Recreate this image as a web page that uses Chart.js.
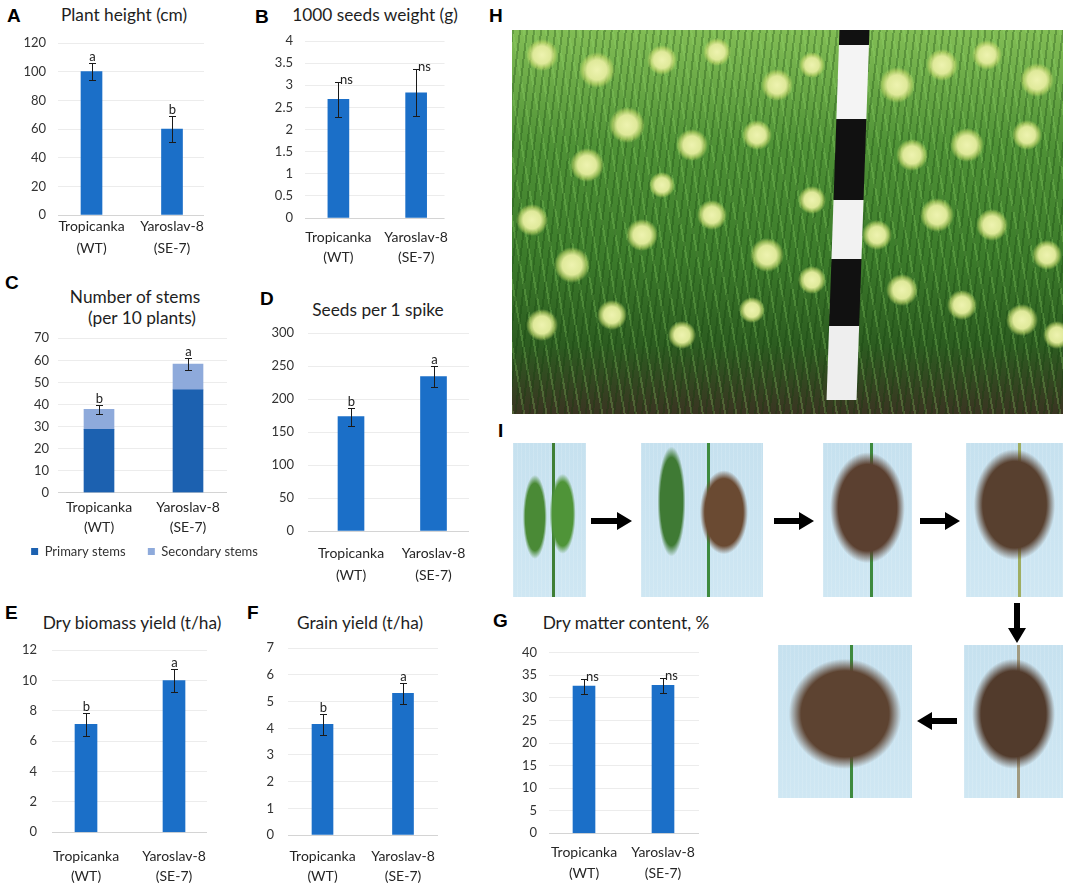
<!DOCTYPE html>
<html><head><meta charset="utf-8">
<script src="https://cdn.jsdelivr.net/npm/chart.js@4.4.1/dist/chart.umd.min.js"></script>
<style>
html,body{margin:0;padding:0;background:#fff;}
body{width:1065px;height:887px;position:relative;overflow:hidden;font-family:Lato,'Noto Sans',sans-serif;}
.lbl{position:absolute;font-family:'Liberation Sans',Arial,sans-serif;font-weight:bold;font-size:19px;line-height:19px;color:#000;}
.ttl{position:absolute;width:300px;text-align:center;font-size:17.3px;line-height:20px;color:#1e1e1e;white-space:nowrap;font-family:Lato,sans-serif;}
.photo{position:absolute;overflow:hidden;}
.spike{background-color:#c8e2f0;}
svg{position:absolute;left:0;top:0;}
</style>
</head><body>
<script>
// ---------- data ----------
const categories = ['Tropicanka (WT)', 'Yaroslav-8 (SE-7)'];
const categoryLines = [['Tropicanka', '(WT)'], ['Yaroslav-8', '(SE-7)']];

const plantHeight = [100, 60];
const plantHeightErr = [5.8, 8.8];
const plantHeightSig = ['a', 'b'];

const seedWeight = [2.68, 2.83];
const seedWeightErr = [0.39, 0.53];
const seedWeightSig = ['ns', 'ns'];

const primaryStems = [28.7, 46.6];
const secondaryStems = [9.1, 11.7];
const stemsErr = [1.9, 2.8];
const stemsSig = ['b', 'a'];

const seedsPerSpike = [173.5, 234.5];
const seedsPerSpikeErr = [13.5, 16.2];
const seedsPerSpikeSig = ['b', 'a'];

const biomassYield = [7.1, 9.98];
const biomassErr = [0.73, 0.75];
const biomassSig = ['b', 'a'];

const grainYield = [4.15, 5.31];
const grainErr = [0.4, 0.39];
const grainSig = ['b', 'a'];

const dryMatter = [32.6, 32.8];
const dryMatterErr = [1.65, 1.7];
const dryMatterSig = ['ns', 'ns'];

// y axis tick settings [max, step]
const plantHeightTicks = [120, 20];
const seedWeightTicks = [4, 0.5];
const stemsTicks = [70, 10];
const seedsTicks = [300, 50];
const biomassTicks = [12, 2];
const grainTicks = [7, 1];
const dryMatterTicks = [40, 5];

const BLUE = '#1b6fc8';
const PRIMARY = '#1c61b0';
const SECONDARY = '#8eaadb';

// ---------- helpers ----------
function addDiv(cls, x, y, text, extra) {
  const d = document.createElement('div');
  d.className = cls;
  d.style.left = x + 'px'; d.style.top = y + 'px';
  if (extra) d.style.cssText += extra;
  d.textContent = text;
  document.body.appendChild(d);
  return d;
}
function letter(t, gx, gy) { addDiv('lbl', gx, gy - 2.5, t); }
function title(t, cx, cy) { addDiv('ttl', cx - 150, cy - 10, t); }

function makeChart(p) {
  const cv = document.createElement('canvas');
  cv.width = p.box.w; cv.height = p.box.h;
  cv.style.cssText = `position:absolute;left:${p.box.x}px;top:${p.box.y}px;width:${p.box.w}px;height:${p.box.h}px;`;
  document.body.appendChild(cv);
  const unit = p.centers[1] - p.centers[0];
  const xmin = -(p.centers[0] - p.area.l) / unit;
  const xmax = 1 + (p.area.r - p.centers[1]) / unit;
  const totals = categories.map((c, i) => p.datasets.reduce((s, d) => s + d.values[i], 0));
  const errPlugin = {
    id: 'errbars',
    afterDatasetsDraw(chart) {
      const xs = chart.scales.x, ys = chart.scales.y, ctx = chart.ctx;
      ctx.save();
      totals.forEach((v, i) => {
        const e = p.errors[i];
        const x = Math.round(xs.getPixelForValue(i)) + 0.5;
        const yt = Math.round(ys.getPixelForValue(v + e)) + 0.5;
        const yb = Math.round(ys.getPixelForValue(v - e)) + 0.5;
        ctx.strokeStyle = '#1a1a1a'; ctx.lineWidth = 1;
        ctx.beginPath();
        ctx.moveTo(x, yt); ctx.lineTo(x, yb);
        ctx.moveTo(x - 3.5, yt); ctx.lineTo(x + 3.5, yt);
        ctx.moveTo(x - 3.5, yb); ctx.lineTo(x + 3.5, yb);
        ctx.stroke();
        const s = p.sig[i];
        ctx.fillStyle = '#222';
        ctx.font = '13px Lato';
        ctx.textBaseline = 'alphabetic';
        if (s === 'ns') { ctx.textAlign = 'left'; ctx.fillText(s, x + 1.5, yt + 1); }
        else { ctx.textAlign = 'center'; ctx.fillText(s, x, yt - 3); }
      });
      ctx.restore();
    }
  };
  const hasLegend = p.datasets.length > 1;
  const rightGap = p.box.x + p.box.w - p.area.r;
  new Chart(cv, {
    type: 'bar',
    data: {
      datasets: p.datasets.map(d => ({
        label: d.label,
        data: d.values.map((v, i) => ({ x: i, y: v })),
        backgroundColor: d.color,
        borderColor: d.color,
        borderWidth: 0,
        barThickness: p.barW
      }))
    },
    options: {
      responsive: false,
      animation: false,
      layout: { padding: { top: p.area.t - p.box.y, right: 0, left: 0, bottom: 0 } },
      plugins: {
        legend: {
          display: hasLegend, position: 'bottom',
          labels: { boxWidth: 7, boxHeight: 7, padding: 9, color: '#333', font: { family: 'Lato', size: 13 } }
        },
        tooltip: { enabled: false },
        title: { display: false }
      },
      scales: {
        x: {
          type: 'linear', min: xmin, max: xmax, stacked: true, offset: false,
          grid: { display: false, drawTicks: false },
          border: { display: false },
          afterBuildTicks: s => { s.ticks = categories.map((c, i) => ({ value: i })); },
          afterFit: s => {
            const lg = s.chart.legend && hasLegend ? s.chart.legend.height : 0;
            s.height = p.box.h - (p.area.b - p.box.y) - lg;
          },
          ticks: {
            autoSkip: false, maxRotation: 0, minRotation: 0,
            padding: p.xFirst - p.area.b - p.xlh / 2,
            color: '#262626',
            font: { family: 'Lato', size: 14, lineHeight: p.xlh + 'px' },
            callback: v => categoryLines[v]
          }
        },
        y: {
          min: 0, max: p.ticks[0], stacked: true,
          grid: { drawTicks: true, tickLength: p.area.l - p.labelRight, tickColor: 'rgba(0,0,0,0)', lineWidth: 1,
                  color: c => (c.tick && c.tick.value === 0) ? '#d4d4d4' : '#ececec' },
          border: { display: false },
          afterFit: s => { s.width = p.area.l - p.box.x; },
          ticks: {
            stepSize: p.ticks[1], padding: 0,
            color: '#333', font: { family: 'Lato', size: 13 },
            callback: v => String(+v.toFixed(2))
          }
        },
        gap: {
          type: 'linear', position: 'right', display: true,
          grid: { display: false, drawTicks: false }, border: { display: false },
          ticks: { display: false },
          afterFit: s => { s.width = rightGap; }
        }
      }
    },
    plugins: [errPlugin]
  });
}

// ---------- panel letters and titles ----------
letter('A', 7, 8);   title('Plant height (cm)', 124, 15);
letter('B', 255, 9); title('1000 seeds weight (g)', 375, 15);
letter('H', 489, 8);
letter('C', 5, 275); title('Number of stems', 135, 297); title('(per 10 plants)', 142, 318);
letter('D', 260, 291); title('Seeds per 1 spike', 378, 310);
letter('I', 498, 423);
letter('E', 5, 605); title('Dry biomass yield (t/ha)', 132, 623);
letter('F', 247, 605); title('Grain yield (t/ha)', 360, 623);
letter('G', 493, 613); title('Dry matter content, %', 626, 623);

// ---------- charts ----------
makeChart({ box: { x: 0, y: 30, w: 240, h: 240 }, area: { l: 58, t: 43, r: 204, b: 215 }, labelRight: 46,
  centers: [91.5, 172], barW: 21, ticks: plantHeightTicks, xFirst: 226, xlh: 22,
  datasets: [{ label: 'Plant height', values: plantHeight, color: BLUE }], errors: plantHeightErr, sig: plantHeightSig });

makeChart({ box: { x: 250, y: 30, w: 210, h: 240 }, area: { l: 305, t: 41, r: 445, b: 218 }, labelRight: 293,
  centers: [338.5, 416.5], barW: 21, ticks: seedWeightTicks, xFirst: 237, xlh: 20,
  datasets: [{ label: '1000 seeds weight', values: seedWeight, color: BLUE }], errors: seedWeightErr, sig: seedWeightSig });

makeChart({ box: { x: 0, y: 325, w: 289, h: 243 }, area: { l: 58, t: 338.3, r: 227, b: 492.7 }, labelRight: 49,
  centers: [99, 188], barW: 30, ticks: stemsTicks, xFirst: 507, xlh: 20,
  datasets: [{ label: 'Primary stems    ', values: primaryStems, color: PRIMARY },
             { label: 'Secondary stems', values: secondaryStems, color: SECONDARY }],
  errors: stemsErr, sig: stemsSig });

makeChart({ box: { x: 265, y: 320, w: 230, h: 270 }, area: { l: 308, t: 333.3, r: 469, b: 531 }, labelRight: 294,
  centers: [351, 433.5], barW: 26, ticks: seedsTicks, xFirst: 553, xlh: 22,
  datasets: [{ label: 'Seeds per 1 spike', values: seedsPerSpike, color: BLUE }], errors: seedsPerSpikeErr, sig: seedsPerSpikeSig });

makeChart({ box: { x: 0, y: 630, w: 240, h: 257 }, area: { l: 52, t: 650, r: 207, b: 832.3 }, labelRight: 37,
  centers: [86, 174], barW: 22, ticks: biomassTicks, xFirst: 856, xlh: 20,
  datasets: [{ label: 'Dry biomass yield', values: biomassYield, color: BLUE }], errors: biomassErr, sig: biomassSig });

makeChart({ box: { x: 250, y: 630, w: 200, h: 257 }, area: { l: 288, t: 648.3, r: 438, b: 835 }, labelRight: 274,
  centers: [322.5, 403], barW: 21, ticks: grainTicks, xFirst: 856, xlh: 20,
  datasets: [{ label: 'Grain yield', values: grainYield, color: BLUE }], errors: grainErr, sig: grainSig });

makeChart({ box: { x: 490, y: 635, w: 230, h: 252 }, area: { l: 549, t: 652.7, r: 699, b: 833.3 }, labelRight: 537,
  centers: [584, 663], barW: 22, ticks: dryMatterTicks, xFirst: 852, xlh: 21,
  datasets: [{ label: 'Dry matter content', values: dryMatter, color: BLUE }], errors: dryMatterErr, sig: dryMatterSig });

// ---------- photo placeholders (H field photo, I panicle series) ----------
(function () {
  const H = document.createElement('div');
  H.className = 'photo';
  H.style.cssText += 'left:512px;top:30px;width:551px;height:384px;';
  const clusters = [[30,25,16],[85,40,18],[150,30,15],[205,22,14],[265,55,16],[300,35,13],[115,95,18],[75,135,17],
    [180,115,16],[245,105,15],[20,190,16],[60,235,18],[130,205,16],[200,185,15],[255,225,17],[300,170,14],
    [385,55,18],[430,35,16],[475,25,15],[525,50,17],[400,125,16],[455,115,17],[515,105,15],[365,205,15],
    [425,185,17],[480,195,16],[535,225,15],[390,260,16],[450,275,15],[510,290,16],[30,295,16],[100,285,15],
    [170,305,14],[545,305,14],[300,250,14],[150,155,13],[340,120,12],[240,280,13]];
  const grads = clusters.map(c => `radial-gradient(circle at ${c[0]}px ${c[1]}px, #eef3b0 0, #dfe99a ${c[2]*0.55}px, rgba(200,220,110,0.6) ${c[2]*0.8}px, rgba(0,0,0,0) ${c[2]}px)`);
  grads.push('repeating-linear-gradient(97deg, rgba(15,60,10,0.28) 0 2px, rgba(0,0,0,0) 2px 7px)');
  grads.push('repeating-linear-gradient(80deg, rgba(150,220,110,0.25) 0 2px, rgba(0,0,0,0) 2px 11px)');
  grads.push('linear-gradient(180deg, #82bd55 0%, #4f9236 30%, #3b7a2a 60%, #2c5c20 82%, #3a3422 100%)');
  H.style.background = grads.join(',');
  document.body.appendChild(H);
  const pole = document.createElement('div');
  pole.className = 'photo';
  pole.style.cssText += 'left:833px;top:30px;width:30px;height:370px;background:linear-gradient(180deg,#111 0 4%,#f4f4f4 4% 24%,#111 24% 46%,#f2f2f2 46% 62%,#111 62% 80%,#eee 80% 100%);transform:skewX(-2deg);';
  document.body.appendChild(pole);

  const spikes = [
    [513, 443, 73, 154, '#4f8a34', '#3f7f35', 0.55],
    [641, 443, 122, 154, '#4c7d38', '#3e8a3e', 0.55],
    [823, 443, 89, 154, '#5b4030', '#3e8a3e', 0.42],
    [966, 443, 97, 154, '#58402f', '#9fae62', 0.4],
    [778, 645, 134, 153, '#5d4331', '#3e8a3e', 0.45],
    [964, 645, 99, 153, '#523b2c', '#a09a80', 0.45]
  ];
  spikes.forEach((s, k) => {
    const d = document.createElement('div');
    d.className = 'photo spike';
    d.style.cssText += `left:${s[0]}px;top:${s[1]}px;width:${s[2]}px;height:${s[3]}px;`;
    const ew = s[2] * 0.42, eh = s[3] * 0.36;
    let bg = [];
    if (k === 1) {
      bg.push(`radial-gradient(ellipse 14px 55px at 25% 38%, #3f7a34 0 80%, rgba(0,0,0,0) 100%)`);
      bg.push(`radial-gradient(ellipse 24px 42px at 68% 45%, #6a4a32 0 80%, rgba(0,0,0,0) 100%)`);
    } else if (k === 0) {
      bg.push(`radial-gradient(ellipse 12px 42px at 30% 48%, #4a8a36 0 80%, rgba(0,0,0,0) 100%)`);
      bg.push(`radial-gradient(ellipse 13px 40px at 68% 46%, #4f9438 0 80%, rgba(0,0,0,0) 100%)`);
    } else {
      bg.push(`radial-gradient(ellipse ${ew}px ${eh}px at 50% ${s[6]*100}%, ${s[4]} 0 78%, rgba(0,0,0,0) 100%)`);
    }
    bg.push(`linear-gradient(90deg, rgba(0,0,0,0) calc(55% - 1.5px), ${s[5]} calc(55% - 1.5px) calc(55% + 1.5px), rgba(0,0,0,0) calc(55% + 1.5px))`);
    bg.push('repeating-linear-gradient(90deg, rgba(255,255,255,0.12) 0 1px, rgba(0,0,0,0) 1px 4px)');
    bg.push('linear-gradient(#c6e1ef,#cfe7f3)');
    d.style.background = bg.join(',');
    document.body.appendChild(d);
  });

  const ns = 'http://www.w3.org/2000/svg';
  const svg = document.createElementNS(ns, 'svg');
  svg.setAttribute('width', '1065'); svg.setAttribute('height', '887');
  function arrowR(x0, x1, y) {
    const p = document.createElementNS(ns, 'polygon');
    const hx = x1 - 15;
    p.setAttribute('points', `${x0},${y-3} ${hx},${y-3} ${hx},${y-9} ${x1},${y} ${hx},${y+9} ${hx},${y+3} ${x0},${y+3}`);
    p.setAttribute('fill', '#000'); svg.appendChild(p);
  }
  function arrowL(x0, x1, y) {
    const p = document.createElementNS(ns, 'polygon');
    const hx = x0 + 15;
    p.setAttribute('points', `${x1},${y-3} ${hx},${y-3} ${hx},${y-9} ${x0},${y} ${hx},${y+9} ${hx},${y+3} ${x1},${y+3}`);
    p.setAttribute('fill', '#000'); svg.appendChild(p);
  }
  function arrowD(x, y0, y1) {
    const p = document.createElementNS(ns, 'polygon');
    const hy = y1 - 15;
    p.setAttribute('points', `${x-3},${y0} ${x-3},${hy} ${x-9},${hy} ${x},${y1} ${x+9},${hy} ${x+3},${hy} ${x+3},${y0}`);
    p.setAttribute('fill', '#000'); svg.appendChild(p);
  }
  arrowR(591, 632, 521); arrowR(774, 814, 521); arrowR(920, 960, 521);
  arrowD(1017, 603, 643); arrowL(917, 957, 721);
  document.body.appendChild(svg);
})();
</script>
</body></html>
